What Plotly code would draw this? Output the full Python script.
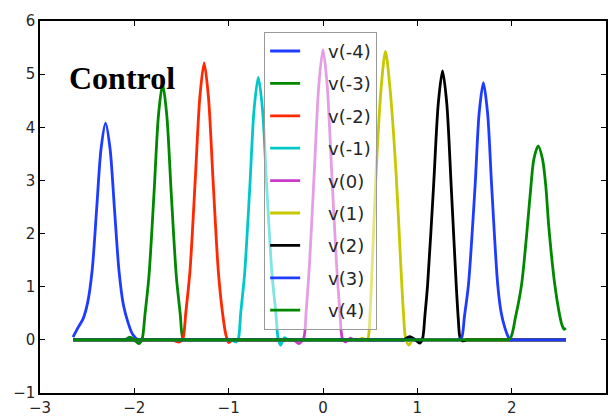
import plotly.graph_objects as go

# ---- data ----
NAMES = ["v(-4)", "v(-3)", "v(-2)", "v(-1)", "v(0)", "v(1)", "v(2)", "v(3)", "v(4)"]
COLORS = ["#1e3cff", "#008800", "#ff2800", "#00c8c8", "#c83cc8",
          "#c8c800", "#000000", "#1e3cff", "#008800"]

x_vm4 = [-2.65, -2.60, -2.5425, -2.495, -2.4475, -2.40, -2.3525, -2.305, -2.2575, -2.21,
         -2.1625, -2.115, -2.0675, -2.02, -1.96, -1.90, -1.84, 2.575]
y_vm4 = [0.05, 0.22, 0.40, 0.70, 1.30, 2.45, 3.60, 4.08, 3.60, 2.45,
         1.30, 0.65, 0.33, 0.11, 0.0, 0.0, 0.0, 0.0]

x_vm3 = [-2.65, -2.15, -2.10, -2.05, -2.00, -1.95, -1.917, -1.887, -1.845, -1.79, -1.744, -1.70,
         -1.656, -1.61, -1.555, -1.513, -1.485, -1.45, -1.40, -1.35, 2.575]
y_vm3 = [0, 0, 0, 0.05, 0, -0.07, 0.02, 0.48, 1.2, 2.8, 4.23, 4.81,
         4.23, 2.8, 1.2, 0.48, 0.03, 0, 0, 0, 0]

x_vm2 = [-2.65, -1.65, -1.60, -1.52, -1.485, -1.454, -1.41, -1.354, -1.305, -1.26, -1.215,
         -1.166, -1.11, -1.066, -1.03, -1.0, -0.96, -0.92, -0.88, 2.575]
y_vm2 = [0, 0, 0, -0.04, 0.03, 0.52, 1.30, 3.02, 4.58, 5.21, 4.58,
         3.02, 1.30, 0.52, 0.1, -0.05, 0, 0, 0, 0]

x_vm1 = [-2.65, -1.02, -0.98, -0.92, -0.896, -0.873, -0.831, -0.776, -0.73, -0.686, -0.642,
         -0.596, -0.541, -0.499, -0.476, -0.45, -0.41, -0.37, -0.33, -0.29, 2.575]
y_vm1 = [0, 0, 0, -0.04, 0.03, 0.49, 1.24, 2.87, 4.35, 4.94, 4.35,
         2.87, 1.24, 0.49, 0.03, -0.1, 0.04, 0, 0, 0, 0]

x_v0 = [-2.65, -0.36, -0.31, -0.255, -0.205, -0.178, -0.145, -0.092, -0.044, 0.0, 0.044,
        0.092, 0.145, 0.178, 0.205, 0.24, 0.29, 0.33, 0.37, 0.41, 2.575]
y_v0 = [0, 0, 0, -0.07, 0.03, 0.55, 1.37, 3.17, 4.80, 5.46, 4.80,
        3.17, 1.37, 0.55, 0.03, -0.04, 0.03, 0, 0, 0, 0]

x_v1 = [-2.65, 0.33, 0.38, 0.42, 0.455, 0.478, 0.50, 0.52, 0.563, 0.618, 0.662,
        0.708, 0.774, 0.827, 0.853, 0.875, 0.91, 0.95, 0.99, 1.03, 2.575]
y_v1 = [0, 0, 0, 0.03, -0.02, 0.03, 0.55, 1.32, 3.16, 4.78, 5.43,
        4.78, 3.16, 1.32, 0.5, 0.04, -0.1, 0, 0, 0, 0]

x_v2 = [-2.65, 0.80, 0.85, 0.92, 0.98, 1.025, 1.056, 1.08, 1.109, 1.172, 1.222, 1.267,
        1.312, 1.359, 1.412, 1.434, 1.454, 1.48, 1.52, 1.56, 1.60, 2.575]
y_v2 = [0, 0, 0, 0.06, 0, -0.06, 0.03, 0.45, 1.04, 2.89, 4.45, 5.06,
        4.45, 2.89, 1.04, 0.4, 0.03, -0.02, 0, 0, 0, 0]

x_v3 = [-2.65, 1.37, 1.42, 1.465, 1.50, 1.542, 1.612, 1.655, 1.70, 1.745, 1.788,
        1.852, 1.89, 1.929, 1.96, 1.982, 2.02, 2.06, 2.10, 2.575]
y_v3 = [0, 0, 0, 0.02, 0.45, 1.04, 2.89, 4.26, 4.84, 4.26, 2.89,
        1.04, 0.5, 0.22, 0.07, 0.0, 0, 0, 0, 0]

x_v4 = [-2.65, 1.85, 1.90, 1.982, 2.041, 2.105, 2.16, 2.204, 2.235, 2.281, 2.327,
        2.362, 2.394, 2.457, 2.50, 2.53, 2.555, 2.575]
y_v4 = [0, 0, 0, 0.02, 0.43, 1.04, 2.0, 2.89, 3.4, 3.65, 3.4,
        2.89, 2.12, 1.04, 0.55, 0.3, 0.2, 0.22]

XS = [x_vm4, x_vm3, x_vm2, x_vm1, x_v0, x_v1, x_v2, x_v3, x_v4]
YS = [y_vm4, y_vm3, y_vm2, y_vm1, y_v0, y_v1, y_v2, y_v3, y_v4]

X_TICKS = [-3, -2, -1, 0, 1, 2, 3]
Y_TICKS = [-1, 0, 1, 2, 3, 4, 5, 6]
ANNOT_TEXT = "Control"

LEGEND_PAD = "\u00a0" * 4  # visual gap between legend line and label

fig = go.Figure()
for i, (name, col, xs, ys) in enumerate(zip(NAMES, COLORS, XS, YS)):
    fig.add_trace(go.Scatter(
        x=xs, y=ys, name=LEGEND_PAD + name, mode="lines",
        line=dict(color=col, width=2.8, shape="spline", smoothing=0.8),
        legendgroup=f"g{i}", hoverinfo="skip",
    ))

axis_common = dict(
    showline=True, linecolor="black", linewidth=1.5, mirror="ticks",
    ticks="inside", ticklen=5, tickwidth=1, tickcolor="black",
    showgrid=False, zeroline=False,
    tickfont=dict(family="DejaVu Sans", size=15, color="#262626"),
)

fig.update_xaxes(range=[-3, 3], tickvals=X_TICKS, **axis_common)
fig.update_yaxes(range=[-1, 6], tickvals=Y_TICKS, **axis_common)

fig.add_annotation(
    x=-2.714, y=4.93, xref="x", yref="y", text=f"<b>{ANNOT_TEXT}</b>",
    showarrow=False, xanchor="left", yanchor="middle",
    font=dict(family="Liberation Serif", size=32, color="black"),
)

fig.update_layout(
    width=610, height=419,
    margin=dict(l=40, r=2, t=21, b=20),
    paper_bgcolor="white", plot_bgcolor="white",
    legend=dict(
        x=0.396, y=0.971, xanchor="left", yanchor="top",
        bgcolor="rgba(255,255,255,0.5)", bordercolor="#999999", borderwidth=1,
        font=dict(family="DejaVu Sans", size=18, color="#262626"),
        tracegroupgap=6, traceorder="grouped",
    ),
)

fig.write_html("out.html")
